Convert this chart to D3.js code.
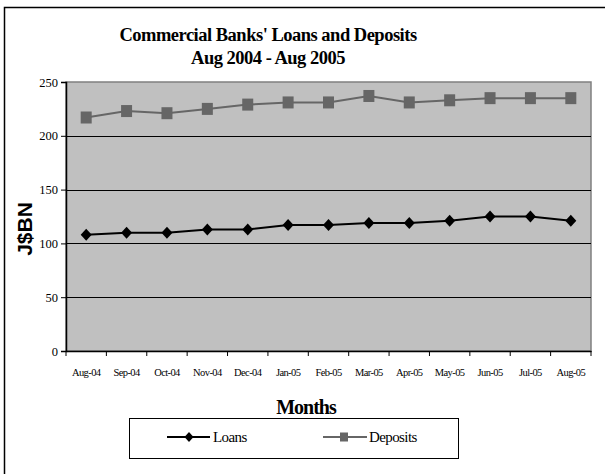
<!DOCTYPE html>
<html>
<head>
<meta charset="utf-8">
<script src="https://cdn.jsdelivr.net/npm/d3@7"></script>
<style>
  body { margin: 0; background: #fff; overflow: hidden; }
  svg { display: block; }
  svg text { font-family: "Liberation Serif", "Times New Roman", serif; }
</style>
</head>
<body>
<div id="chart"></div>
<script>
var months = ['Aug-04', 'Sep-04', 'Oct-04', 'Nov-04', 'Dec-04', 'Jan-05', 'Feb-05',
  'Mar-05', 'Apr-05', 'May-05', 'Jun-05', 'Jul-05', 'Aug-05'];
var loans = [108, 110, 110, 113, 113, 117, 117, 119, 119, 121, 125, 125, 121];
var deposits = [217, 223, 221, 225, 229, 231, 231, 237, 231, 233, 235, 235, 235];
var yTicks = [0, 50, 100, 150, 200, 250];

var W = 605, H = 474;
var margin = { top: 82, left: 66, bottom: 123, right: 14 },
  width = W - margin.left - margin.right,
  height = H - margin.top - margin.bottom;

var root = d3.select('#chart').append('svg')
  .attr('width', W)
  .attr('height', H);

// outer frame
root.append('rect')
  .attr('x', 4.5).attr('y', 7.5)
  .attr('width', W + 10).attr('height', H + 10)
  .attr('fill', '#fff')
  .attr('stroke', '#000')
  .attr('stroke-width', 1.5);

// titles
root.append('text')
  .attr('x', 268).attr('y', 41)
  .attr('text-anchor', 'middle')
  .style('font-size', '18.5px').style('font-weight', 'bold').style('letter-spacing', '-0.5px')
  .text("Commercial Banks' Loans and Deposits");
root.append('text')
  .attr('x', 268).attr('y', 64)
  .attr('text-anchor', 'middle')
  .style('font-size', '18.5px').style('font-weight', 'bold').style('letter-spacing', '-0.5px')
  .text('Aug 2004 - Aug 2005');

var svg = root.append('g')
  .attr('transform', 'translate(' + margin.left + ',' + margin.top + ')');

var x = d3.scaleBand().domain(months).range([0, width]);
var y = d3.scaleLinear().domain([0, 250]).range([height, 0]);

svg.append('rect')
  .attr('width', width).attr('height', height)
  .attr('fill', '#c0c0c0')
  .attr('stroke', '#808080')
  .attr('stroke-width', 1.5);

// gridlines
svg.selectAll('.grid')
  .data(yTicks.filter(d => d > 0 && d < 250))
  .enter().append('line')
  .attr('x1', 0).attr('x2', width)
  .attr('y1', d => Math.round(y(d)) + 0.5).attr('y2', d => Math.round(y(d)) + 0.5)
  .attr('stroke', '#000').attr('stroke-width', 1);

// y axis
var yAxis = d3.axisLeft(y).tickValues(yTicks).tickSize(5).tickPadding(3);
var gy = svg.append('g').call(yAxis);
gy.select('.domain').attr('stroke', '#000').attr('stroke-width', 1.5);
gy.selectAll('text').style('font-size', '12.5px').style('font-family', '"Liberation Serif", serif').attr('fill', '#000');

// x axis
var xAxis = d3.axisBottom(x).tickSize(0).tickPadding(18);
var gx = svg.append('g')
  .attr('transform', 'translate(0,' + height + ')')
  .call(xAxis);
gx.select('.domain').attr('stroke', '#000').attr('stroke-width', 1.5);
gx.selectAll('text').style('font-size', '10.5px').style('letter-spacing', '-0.6px')
  .style('font-family', '"Liberation Serif", serif').attr('fill', '#000');
// tick marks on band boundaries
svg.selectAll('.xtick')
  .data(d3.range(months.length + 1))
  .enter().append('line')
  .attr('x1', i => i * x.step()).attr('x2', i => i * x.step())
  .attr('y1', height).attr('y2', height + 5)
  .attr('stroke', '#000');

var line = d3.line()
  .x((d, i) => x(months[i]) + x.bandwidth() / 2)
  .y(d => y(d));

// deposits
svg.append('path')
  .datum(deposits)
  .attr('d', line)
  .attr('fill', 'none')
  .attr('stroke', '#666666')
  .attr('stroke-width', 2);
svg.selectAll('.dep')
  .data(deposits)
  .enter().append('rect')
  .attr('x', (d, i) => x(months[i]) + x.bandwidth() / 2 - 5.5)
  .attr('y', d => y(d) - 6)
  .attr('width', 11).attr('height', 12)
  .attr('fill', '#666666');

// loans
svg.append('path')
  .datum(loans)
  .attr('d', line)
  .attr('fill', 'none')
  .attr('stroke', '#000')
  .attr('stroke-width', 2);
var diamond = 'M0,-6L5.5,0L0,6L-5.5,0Z';
svg.selectAll('.loan')
  .data(loans)
  .enter().append('path')
  .attr('d', diamond)
  .attr('transform', (d, i) => 'translate(' + (x(months[i]) + x.bandwidth() / 2) + ',' + y(d) + ')')
  .attr('fill', '#000');

// axis labels
root.append('text')
  .attr('transform', 'translate(32,229) rotate(-90)')
  .attr('text-anchor', 'middle')
  .style('font-family', '"Liberation Sans", Arial, sans-serif')
  .style('font-size', '21px').style('font-weight', 'bold')
  .text('J$BN');

root.append('text')
  .attr('x', 306).attr('y', 414)
  .attr('text-anchor', 'middle')
  .style('font-size', '20px').style('font-weight', 'bold').style('letter-spacing', '-1px')
  .text('Months');

// legend
var legend = root.append('g');
legend.append('rect')
  .attr('x', 129.5).attr('y', 418.5)
  .attr('width', 329).attr('height', 40)
  .attr('fill', '#fff')
  .attr('stroke', '#000')
  .attr('stroke-width', 1);

var ly = 437;
legend.append('line')
  .attr('x1', 167).attr('x2', 210).attr('y1', ly).attr('y2', ly)
  .attr('stroke', '#000').attr('stroke-width', 2);
legend.append('path')
  .attr('d', 'M0,-5L4.5,0L0,5L-4.5,0Z')
  .attr('transform', 'translate(189,' + ly + ')')
  .attr('fill', '#000');
legend.append('text')
  .attr('x', 213).attr('y', ly + 5)
  .style('font-size', '15px').style('letter-spacing', '-0.6px')
  .text('Loans');

legend.append('line')
  .attr('x1', 323).attr('x2', 367).attr('y1', ly).attr('y2', ly)
  .attr('stroke', '#666666').attr('stroke-width', 2);
legend.append('rect')
  .attr('x', 340).attr('y', ly - 4.5)
  .attr('width', 8).attr('height', 9)
  .attr('fill', '#666666');
legend.append('text')
  .attr('x', 369).attr('y', ly + 5)
  .style('font-size', '15px').style('letter-spacing', '-0.6px')
  .text('Deposits');
</script>
</body>
</html>
